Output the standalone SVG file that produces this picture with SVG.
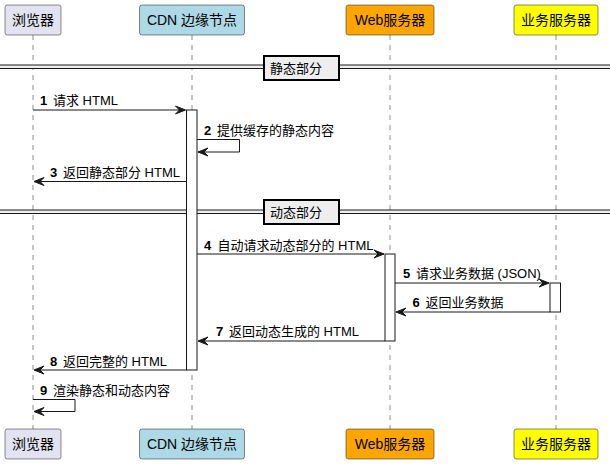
<svg xmlns="http://www.w3.org/2000/svg" width="610" height="466" viewBox="0 0 610 466">
<style>
text{font-family:"Liberation Sans","Noto Sans CJK SC",sans-serif;fill:#000}
.pt{font-size:14px}
.mt{font-size:13px}
.num{font-size:13px;font-weight:bold}
.life{stroke:#181818;stroke-width:0.5;stroke-dasharray:5,5;fill:none}
.box{stroke:#181818;stroke-width:0.5}
.act{fill:#FFFFFF;stroke:#181818;stroke-width:1}
.msg{stroke:#181818;stroke-width:1;fill:none}
.div{stroke:#181818;stroke-width:1}
.divbox{fill:#EEEEEE;stroke:#000;stroke-width:2}
</style>
<defs>
<polygon id="ahR" points="0,0 -10,-4 -6,0 -10,4" fill="#181818" stroke="#181818" stroke-width="1"/>
<polygon id="ahL" points="0,0 10,-4 6,0 10,4" fill="#181818" stroke="#181818" stroke-width="1"/>
</defs>
<g id="lifelines">
<line class="life" x1="33" y1="35" x2="33" y2="429"/>
<line class="life" x1="192" y1="35" x2="192" y2="429"/>
<line class="life" x1="390" y1="35" x2="390" y2="429"/>
<line class="life" x1="556" y1="35" x2="556" y2="429"/>
</g>
<g id="dividers">
<g id="div-static">
<rect x="0" y="65" width="610" height="3" fill="#EEEEEE"/>
<line class="div" x1="0" y1="65" x2="610" y2="65"/>
<line class="div" x1="0" y1="68.5" x2="610" y2="68.5"/>
<rect class="divbox" x="264" y="56" width="75" height="24"/>
<text class="mt" x="270" y="73">静态部分</text>
</g>
<g id="div-dynamic">
<rect x="0" y="210" width="610" height="3" fill="#EEEEEE"/>
<line class="div" x1="0" y1="210" x2="610" y2="210"/>
<line class="div" x1="0" y1="213.5" x2="610" y2="213.5"/>
<rect class="divbox" x="264" y="200" width="75" height="24"/>
<text class="mt" x="270" y="217">动态部分</text>
</g>
</g>
<g id="activations">
<rect class="act" x="186.5" y="110" width="10.5" height="260"/>
<rect class="act" x="385" y="254" width="10" height="87"/>
<rect class="act" x="550" y="283" width="10.5" height="29"/>
</g>
<g id="connectors">
<line class="msg" x1="33" y1="110" x2="185" y2="110"/><use href="#ahR" x="185.5" y="110"/>
<polyline class="msg" points="197,139.5 239.5,139.5 239.5,152 198,152"/><use href="#ahL" x="198" y="152"/>
<line class="msg" x1="186.5" y1="181.5" x2="35" y2="181.5"/><use href="#ahL" x="34" y="181.5"/>
<line class="msg" x1="197" y1="254" x2="384" y2="254"/><use href="#ahR" x="384" y="254"/>
<line class="msg" x1="395" y1="283" x2="549" y2="283"/><use href="#ahR" x="549" y="283"/>
<line class="msg" x1="550" y1="312" x2="397" y2="312"/><use href="#ahL" x="396" y="312"/>
<line class="msg" x1="385" y1="341" x2="199" y2="341"/><use href="#ahL" x="198" y="341"/>
<line class="msg" x1="186.5" y1="370" x2="35" y2="370"/><use href="#ahL" x="34" y="370"/>
<polyline class="msg" points="33,399.5 75,399.5 75,411.5 35,411.5"/><use href="#ahL" x="34" y="411.5"/>
</g>
<g id="labels">
<text class="num" x="40" y="105">1</text><text class="mt" x="53" y="105">请求 HTML</text>
<text class="num" x="204" y="135">2</text><text class="mt" x="217" y="135">提供缓存的静态内容</text>
<text class="num" x="50" y="177">3</text><text class="mt" x="63" y="177">返回静态部分 HTML</text>
<text class="num" x="204" y="249.5">4</text><text class="mt" x="217.5" y="249.5">自动请求动态部分的 HTML</text>
<text class="num" x="403" y="277.5">5</text><text class="mt" x="416" y="277.5">请求业务数据 (JSON)</text>
<text class="num" x="412.5" y="306.5">6</text><text class="mt" x="425.5" y="306.5">返回业务数据</text>
<text class="num" x="216" y="335.5">7</text><text class="mt" x="229" y="335.5">返回动态生成的 HTML</text>
<text class="num" x="50" y="365.5">8</text><text class="mt" x="63" y="365.5">返回完整的 HTML</text>
<text class="num" x="40" y="394.5">9</text><text class="mt" x="53" y="394.5">渲染静态和动态内容</text>
</g>
<g id="p-browser">
<rect class="box" x="5" y="5" width="56" height="30" rx="2.5" fill="#E2E2F0"/>
<text class="pt" x="33" y="25" text-anchor="middle">浏览器</text>
<rect class="box" x="5" y="429" width="56" height="30" rx="2.5" fill="#E2E2F0"/>
<text class="pt" x="33" y="449" text-anchor="middle">浏览器</text>
</g>
<g id="p-cdn">
<rect class="box" x="139.5" y="5" width="105" height="30" rx="2.5" fill="#ADD8E6"/>
<text class="pt" x="192" y="25" text-anchor="middle">CDN 边缘节点</text>
<rect class="box" x="139.5" y="429" width="105" height="30" rx="2.5" fill="#ADD8E6"/>
<text class="pt" x="192" y="449" text-anchor="middle">CDN 边缘节点</text>
</g>
<g id="p-web">
<rect class="box" x="346" y="5" width="88" height="30" rx="2.5" fill="#FFA500"/>
<text class="pt" x="390" y="25" text-anchor="middle">Web服务器</text>
<rect class="box" x="346" y="429" width="88" height="30" rx="2.5" fill="#FFA500"/>
<text class="pt" x="390" y="449" text-anchor="middle">Web服务器</text>
</g>
<g id="p-biz">
<rect class="box" x="514" y="5" width="84" height="30" rx="2.5" fill="#FFFF00"/>
<text class="pt" x="556" y="25" text-anchor="middle">业务服务器</text>
<rect class="box" x="514" y="429" width="84" height="30" rx="2.5" fill="#FFFF00"/>
<text class="pt" x="556" y="449" text-anchor="middle">业务服务器</text>
</g>
</svg>
